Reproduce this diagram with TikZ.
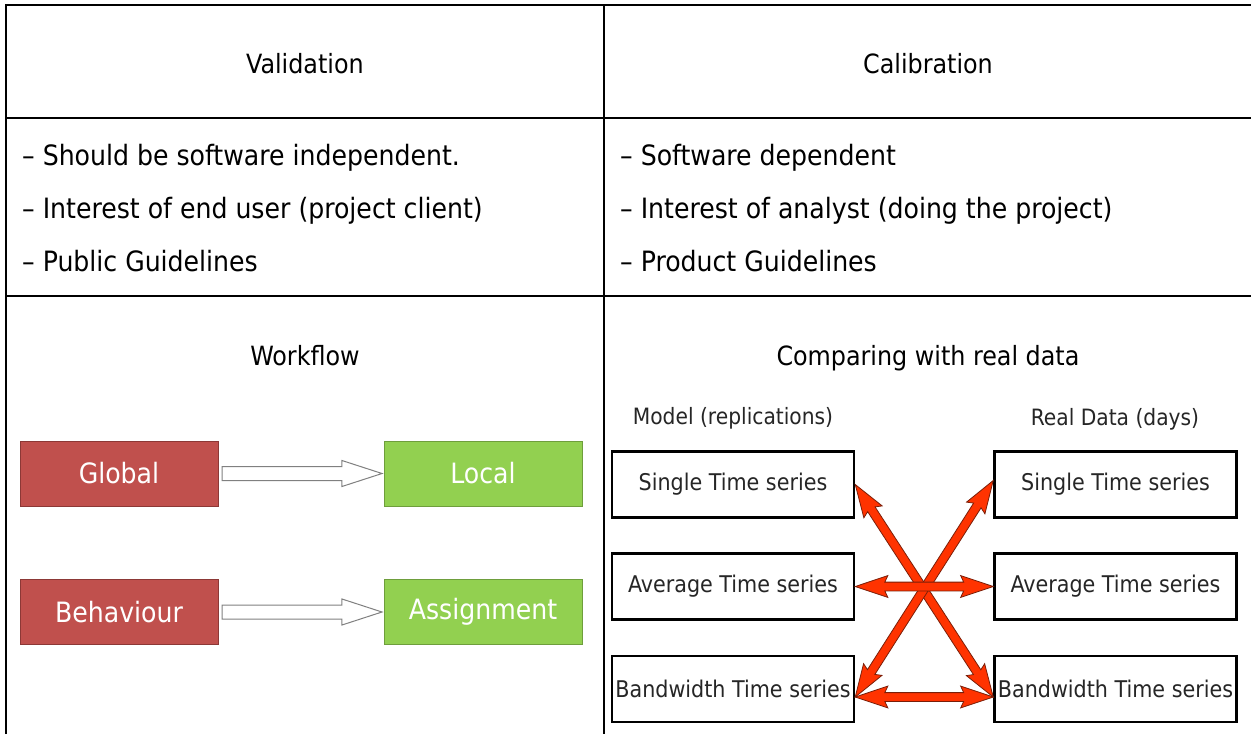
\documentclass[tikz,border=0pt]{standalone}
\usepackage{fontspec}
\setmainfont{DejaVu Sans Condensed}
\usetikzlibrary{shapes.arrows,calc}
\definecolor{boxred}{HTML}{C0504D}
\definecolor{boxredline}{HTML}{8C3836}
\definecolor{boxgreen}{HTML}{92D050}
\definecolor{boxgreenline}{HTML}{6E9E3C}
\definecolor{linkred}{HTML}{FF3300}
\definecolor{linkedge}{HTML}{7A1E08}
\begin{document}
\begin{tikzpicture}[x=1pt,y=-1pt,
  every node/.style={inner sep=0pt},
  rule/.style={line width=2.5pt},
  headtext/.style={font=\fontsize{26.5}{30}\selectfont, anchor=base},
  itemtext/.style={font=\fontsize{28}{32}\selectfont, anchor=base west},
  flowbox/.style={rectangle, line width=1pt, minimum width=198pt, minimum height=65pt,
    text=white, font=\fontsize{28}{32}\selectfont},
  redbox/.style={flowbox, fill=boxred, draw=boxredline},
  greenbox/.style={flowbox, fill=boxgreen, draw=boxgreenline},
  hollow/.style={single arrow, draw=black!50, fill=white, line width=1pt,
    inner ysep=6.5pt, minimum width=25pt, single arrow head extend=6pt,
    single arrow tip angle=36, minimum height=160pt, anchor=tail},
  seriesbox/.style={rectangle, draw=black, line width=2.5pt, minimum width=242pt,
    minimum height=66pt, text=black!85, font=\fontsize{23}{26}\selectfont},
  sidetext/.style={text=black!85, font=\fontsize{22.5}{26}\selectfont, anchor=base},
  twoway/.style={double arrow, fill=linkred, draw=linkedge, line width=0.8pt,
    inner ysep=4pt, minimum width=21pt, double arrow head extend=6.5pt,
    double arrow tip angle=37, double arrow head indent=3pt}]
\useasboundingbox (0,0) rectangle (1251,734);
\fill[white] (0,0) rectangle (1251,734);
\draw[rule] (6,734) -- (6,5) -- (1251,5);
\draw[rule] (6,118) -- (1251,118);
\draw[rule] (6,296) -- (1251,296);
\draw[rule] (604,5) -- (604,734);
\node[headtext] (val) at (305,73) {Validation};
\node[headtext] (cal) at (928,73) {Calibration};
\node[itemtext] (v1) at (22,165) {– Should be software independent.};
\node[itemtext] (v2) at (22,218) {– Interest of end user (project client)};
\node[itemtext] (v3) at (22,271) {– Public Guidelines};
\node[itemtext] (c1) at (620,165) {– Software dependent};
\node[itemtext] (c2) at (620,218) {– Interest of analyst (doing the project)};
\node[itemtext] (c3) at (620,271) {– Product Guidelines};
\node[headtext] (wf) at (305,365) {Workflow};
\node[headtext] (cmp) at (928,365) {Comparing with real data};
\node[redbox] (glob) at (119,473.5) {Global};
\node[greenbox] (loc) at (483,473.5) {Local};
\node[redbox] (beh) at (119,612) {Behaviour};
\node[greenbox] (asg) at (483,612) {Assignment};
\path (glob.east) -- (loc.west) node[pos=0, xshift=3pt, hollow] {};
\path (beh.east) -- (asg.west) node[pos=0, xshift=3pt, hollow] {};
\node[sidetext] (model) at (733,424) {Model (replications)};
\node[sidetext] (real) at (1115,425) {Real Data (days)};
\node[seriesbox] (ms) at (733,484.5) {Single Time series};
\node[seriesbox] (ma) at (733,586.5) {Average Time series};
\node[seriesbox] (mb) at (733,689) {Bandwidth Time series};
\node[seriesbox] (rs) at (1115.5,484.5) {Single Time series};
\node[seriesbox] (ra) at (1115.5,586.5) {Average Time series};
\node[seriesbox] (rb) at (1115.5,689) {Bandwidth Time series};
\path let \p1=(ms.east), \p2=($(rb.west)+(0,8)$), \n1={veclen(\x2-\x1,\y2-\y1)},
  \n2={atan2(\y2-\y1,\x2-\x1)} in node[twoway, minimum height=\n1, rotate=\n2] at ($(\p1)!0.5!(\p2)$) {};
\path let \p1=($(mb.east)+(0,8)$), \p2=($(rs.west)+(0,-4)$), \n1={veclen(\x2-\x1,\y2-\y1)},
  \n2={atan2(\y2-\y1,\x2-\x1)} in node[twoway, minimum height=\n1, rotate=\n2] at ($(\p1)!0.5!(\p2)$) {};
\path let \p1=(ma.east), \p2=(ra.west), \n1={veclen(\x2-\x1,\y2-\y1)},
  \n2={atan2(\y2-\y1,\x2-\x1)} in node[twoway, minimum height=\n1, rotate=\n2] at ($(\p1)!0.5!(\p2)$) {};
\path let \p1=($(mb.east)+(0,8)$), \p2=($(rb.west)+(0,8)$), \n1={veclen(\x2-\x1,\y2-\y1)},
  \n2={atan2(\y2-\y1,\x2-\x1)} in node[twoway, minimum height=\n1, rotate=\n2] at ($(\p1)!0.5!(\p2)$) {};
\end{tikzpicture}
\end{document}
